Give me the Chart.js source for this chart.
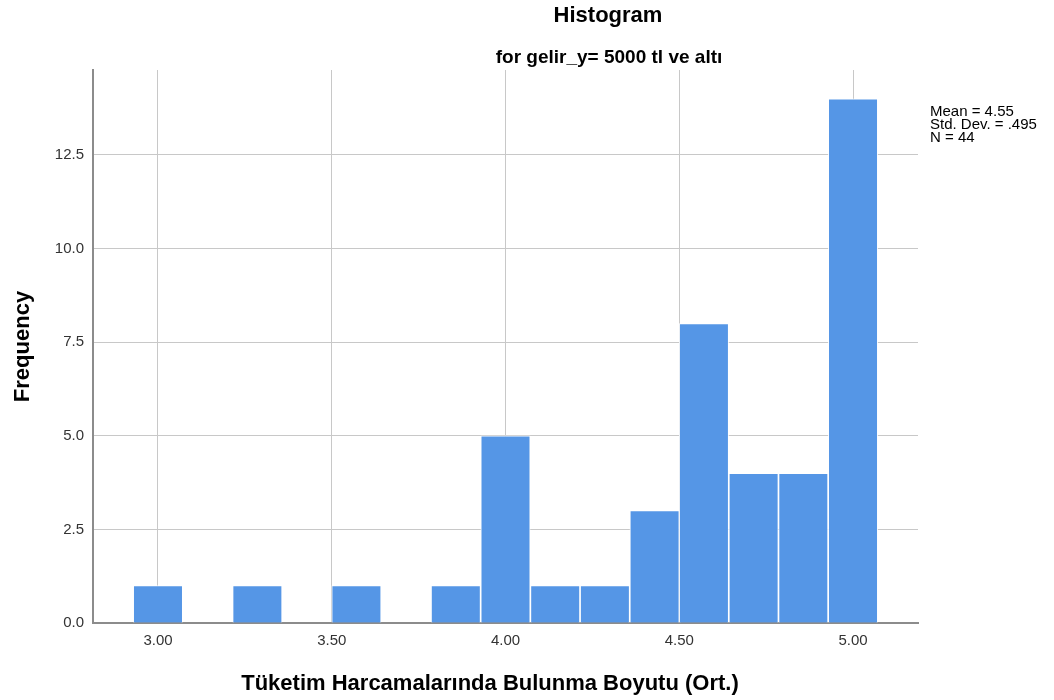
<!DOCTYPE html>
<html>
<head>
<meta charset="utf-8">
<script src="https://cdn.jsdelivr.net/npm/chart.js@4"></script>
<style>
  html, body { margin: 0; padding: 0; background: #fff; }
  #wrap { width: 1054px; height: 700px; }
</style>
</head>
<body>
<div id="wrap"><canvas id="histChart" width="1054" height="700"></canvas></div>
<script>
// Histogram verileri (SPSS çıktısından okunmuştur)
const binCenters = [3.000, 3.143, 3.286, 3.429, 3.571, 3.714, 3.857, 4.000, 4.143, 4.286, 4.429, 4.571, 4.714, 4.857, 5.000];
const frequencies = [1, 0, 1, 0, 1, 0, 1, 5, 1, 1, 3, 8, 4, 4, 14];
const xTicks = [3.00, 3.50, 4.00, 4.50, 5.00];
const yTicks = [0, 2.5, 5, 7.5, 10, 12.5];
const statsLines = ['Mean = 4.55', 'Std. Dev. = .495', 'N = 44'];
const xTitle = 'Tüketim Harcamalarında Bulunma Boyutu (Ort.)';

const baseFont = '"Liberation Sans", Arial, sans-serif';

// Başlık, x ekseni başlığı ve istatistik kutusu
const textPlugin = {
    id: 'spssText',
    afterDraw(chart) {
        const c = chart.ctx;
        c.save();
        c.fillStyle = '#000';
        c.textAlign = 'center';
        c.textBaseline = 'alphabetic';
        c.font = 'bold 22px ' + baseFont;
        c.fillText('Histogram', 608, 22);
        c.font = 'bold 19px ' + baseFont;
        c.fillText('for gelir_y= 5000 tl ve altı', 609, 63);
        c.font = 'bold 22px ' + baseFont;
        c.fillText(xTitle, 490, 690);
        c.textAlign = 'left';
        c.font = '15px ' + baseFont;
        statsLines.forEach((t, i) => c.fillText(t, 930, 116 + i * 13));
        c.restore();
    }
};

const ctx = document.getElementById('histChart').getContext('2d');
const histChart = new Chart(ctx, {
    type: 'bar',
    data: {
        datasets: [{
            label: 'Frequency',
            data: binCenters.map((x, i) => ({ x: x, y: frequencies[i] })),
            backgroundColor: '#5596E6',
            borderColor: 'rgba(255,255,255,0.85)',
            borderWidth: 1,
            categoryPercentage: 1.0,
            barPercentage: 1.0
        }]
    },
    options: {
        responsive: false,
        animation: false,
        layout: { padding: { top: 70, right: 136, left: 0, bottom: 0 } },
        plugins: {
            legend: { display: false },
            tooltip: { enabled: false }
        },
        scales: {
            x: {
                type: 'linear',
                offset: false,
                min: 2.813,
                max: 5.187,
                afterFit: (s) => { s.height = 77; },
                afterBuildTicks: (s) => { s.ticks = xTicks.map(v => ({ value: v })); },
                grid: { offset: false, color: '#c8c8c8', lineWidth: 1, drawTicks: false },
                border: { color: '#8c8c8c', width: 2 },
                ticks: {
                    padding: 9,
                    color: '#333',
                    font: { family: baseFont, size: 15 },
                    callback: (v) => Number(v).toFixed(2)
                },
                title: { display: false }
            },
            y: {
                min: 0,
                max: 14.77,
                afterFit: (s) => { s.width = 93; },
                afterBuildTicks: (s) => { s.ticks = yTicks.map(v => ({ value: v })); },
                grid: { color: '#c8c8c8', lineWidth: 1, drawTicks: false },
                border: { color: '#8c8c8c', width: 2 },
                ticks: {
                    padding: 9,
                    color: '#333',
                    font: { family: baseFont, size: 15 },
                    callback: (v) => Number(v).toFixed(1)
                },
                title: {
                    display: true,
                    text: 'Frequency',
                    color: '#000',
                    font: { family: baseFont, size: 22, weight: 'bold' },
                    padding: { top: 10, bottom: 0 }
                }
            }
        }
    },
    plugins: [textPlugin]
});
</script>
</body>
</html>
